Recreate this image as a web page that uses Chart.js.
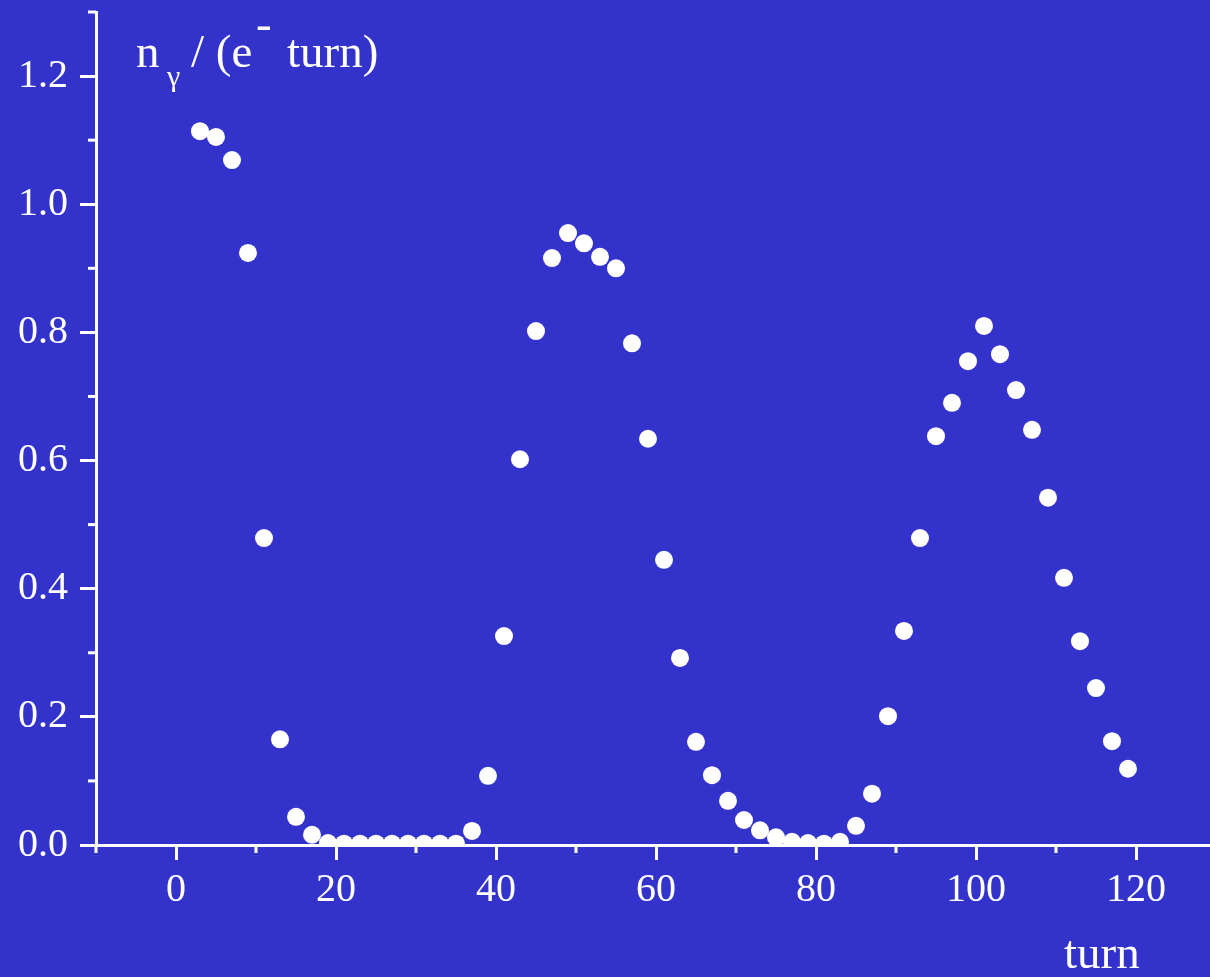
<!DOCTYPE html>
<html>
<head>
<meta charset="utf-8">
<script src="https://cdn.jsdelivr.net/npm/chart.js@4"></script>
<style>
  body { margin: 0; background: #3333cc; }
  canvas { display: block; }
</style>
</head>
<body>
<canvas id="photonChart" width="1210" height="977"></canvas>
<script>
const turns = [3, 5, 7, 9, 11, 13, 15, 17, 19, 21, 23, 25, 27, 29, 31, 33, 35, 37, 39, 41,
  43, 45, 47, 49, 51, 53, 55, 57, 59, 61, 63, 65, 67, 69, 71, 73, 75, 77, 79, 81,
  83, 85, 87, 89, 91, 93, 95, 97, 99, 101, 103, 105, 107, 109, 111, 113, 115, 117, 119];
const photons = [1.114, 1.105, 1.069, 0.924, 0.479, 0.165, 0.044, 0.016, 0.003, 0.002,
  0.002, 0.002, 0.002, 0.002, 0.002, 0.002, 0.002, 0.022, 0.108, 0.326,
  0.602, 0.802, 0.916, 0.955, 0.939, 0.918, 0.900, 0.783, 0.634, 0.445,
  0.292, 0.161, 0.109, 0.069, 0.039, 0.023, 0.012, 0.005, 0.003, 0.002,
  0.005, 0.030, 0.080, 0.201, 0.334, 0.479, 0.638, 0.690, 0.755, 0.810,
  0.766, 0.710, 0.648, 0.542, 0.417, 0.318, 0.245, 0.162, 0.119];

const xMajorTicks = [0, 20, 40, 60, 80, 100, 120];
const xMinorTicks = [-10, 10, 30, 50, 70, 90, 110];
const yMajorTicks = [0, 0.2, 0.4, 0.6, 0.8, 1.0, 1.2];
const yMinorTicks = [0.1, 0.3, 0.5, 0.7, 0.9, 1.1, 1.3];

const BG = '#3333cc';
const FG = '#ffffff';
const SERIF = '"Liberation Serif", "DejaVu Serif", serif';

const background = {
  id: 'background',
  beforeDraw(chart) {
    const ctx = chart.ctx;
    ctx.save();
    ctx.fillStyle = BG;
    ctx.fillRect(0, 0, chart.width, chart.height);
    ctx.restore();
  }
};

// short minor ticks (Chart.js only gives one tick length per axis)
const minorTicks = {
  id: 'minorTicks',
  afterDraw(chart) {
    const { ctx, scales: { x, y } } = chart;
    ctx.save();
    ctx.strokeStyle = FG;
    ctx.lineWidth = 3;
    xMinorTicks.forEach(v => {
      const px = x.getPixelForValue(v);
      ctx.beginPath();
      ctx.moveTo(px, y.bottom);
      ctx.lineTo(px, y.bottom + 8);
      ctx.stroke();
    });
    yMinorTicks.forEach(v => {
      const py = y.getPixelForValue(v);
      ctx.beginPath();
      ctx.moveTo(x.left - 8, py);
      ctx.lineTo(x.left, py);
      ctx.stroke();
    });
    ctx.restore();
  }
};

const axisTitles = {
  id: 'axisTitles',
  afterDraw(chart) {
    const ctx = chart.ctx;
    ctx.save();
    ctx.fillStyle = FG;
    ctx.textBaseline = 'alphabetic';
    ctx.textAlign = 'left';
    ctx.font = '47px ' + SERIF;
    ctx.fillText('n', 136, 67);
    ctx.font = '30px ' + SERIF;
    ctx.fillText('γ', 167, 86);
    ctx.font = '47px ' + SERIF;
    ctx.fillText('/ (e', 191, 67);
    ctx.fillText('-', 256, 39);
    ctx.fillText('turn)', 287, 67);
    ctx.fillText('turn', 1064, 968);
    ctx.restore();
  }
};

const tickFont = { family: SERIF, size: 40 };

new Chart(document.getElementById('photonChart'), {
  type: 'scatter',
  data: {
    datasets: [{
      data: turns.map((t, i) => ({ x: t, y: photons[i] })),
      pointRadius: 9,
      pointBackgroundColor: FG,
      pointBorderWidth: 0,
      clip: 0
    }]
  },
  options: {
    responsive: false,
    animation: false,
    layout: { autoPadding: false, padding: { top: 12, left: 0, right: 0, bottom: 0 } },
    plugins: { legend: { display: false }, tooltip: { enabled: false } },
    scales: {
      x: {
        type: 'linear',
        min: -10,
        max: 129.25,
        afterBuildTicks: s => {
          s.ticks = [...xMinorTicks, ...xMajorTicks].sort((a, b) => a - b).map(v => ({ value: v }));
        },
        afterFit: s => {
          s.height = 132;
          s.paddingLeft = 0;
          s.paddingRight = 0;
        },
        border: { color: FG, width: 3 },
        grid: {
          drawOnChartArea: false,
          tickLength: 15,
          tickWidth: 3,
          tickColor: c => (c.tick && xMajorTicks.includes(c.tick.value)) ? FG : 'rgba(0,0,0,0)'
        },
        ticks: {
          color: FG,
          font: tickFont,
          padding: 6,
          maxRotation: 0,
          autoSkip: false,
          callback: v => xMajorTicks.includes(v) ? String(v) : ''
        }
      },
      y: {
        min: 0,
        max: 1.3,
        afterBuildTicks: s => {
          s.ticks = [...yMinorTicks, ...yMajorTicks].sort((a, b) => a - b).map(v => ({ value: v }));
        },
        afterFit: s => {
          s.width = 96;
          s.paddingTop = 0;
          s.paddingBottom = 0;
        },
        border: { color: FG, width: 3 },
        grid: {
          drawOnChartArea: false,
          tickLength: 16,
          tickWidth: 3,
          tickColor: c => (c.tick && yMajorTicks.includes(c.tick.value)) ? FG : 'rgba(0,0,0,0)'
        },
        ticks: {
          color: FG,
          font: tickFont,
          padding: 12,
          autoSkip: false,
          callback: v => yMajorTicks.includes(v) ? v.toFixed(1) : ''
        }
      }
    }
  },
  plugins: [background, minorTicks, axisTitles]
});
</script>
</body>
</html>
